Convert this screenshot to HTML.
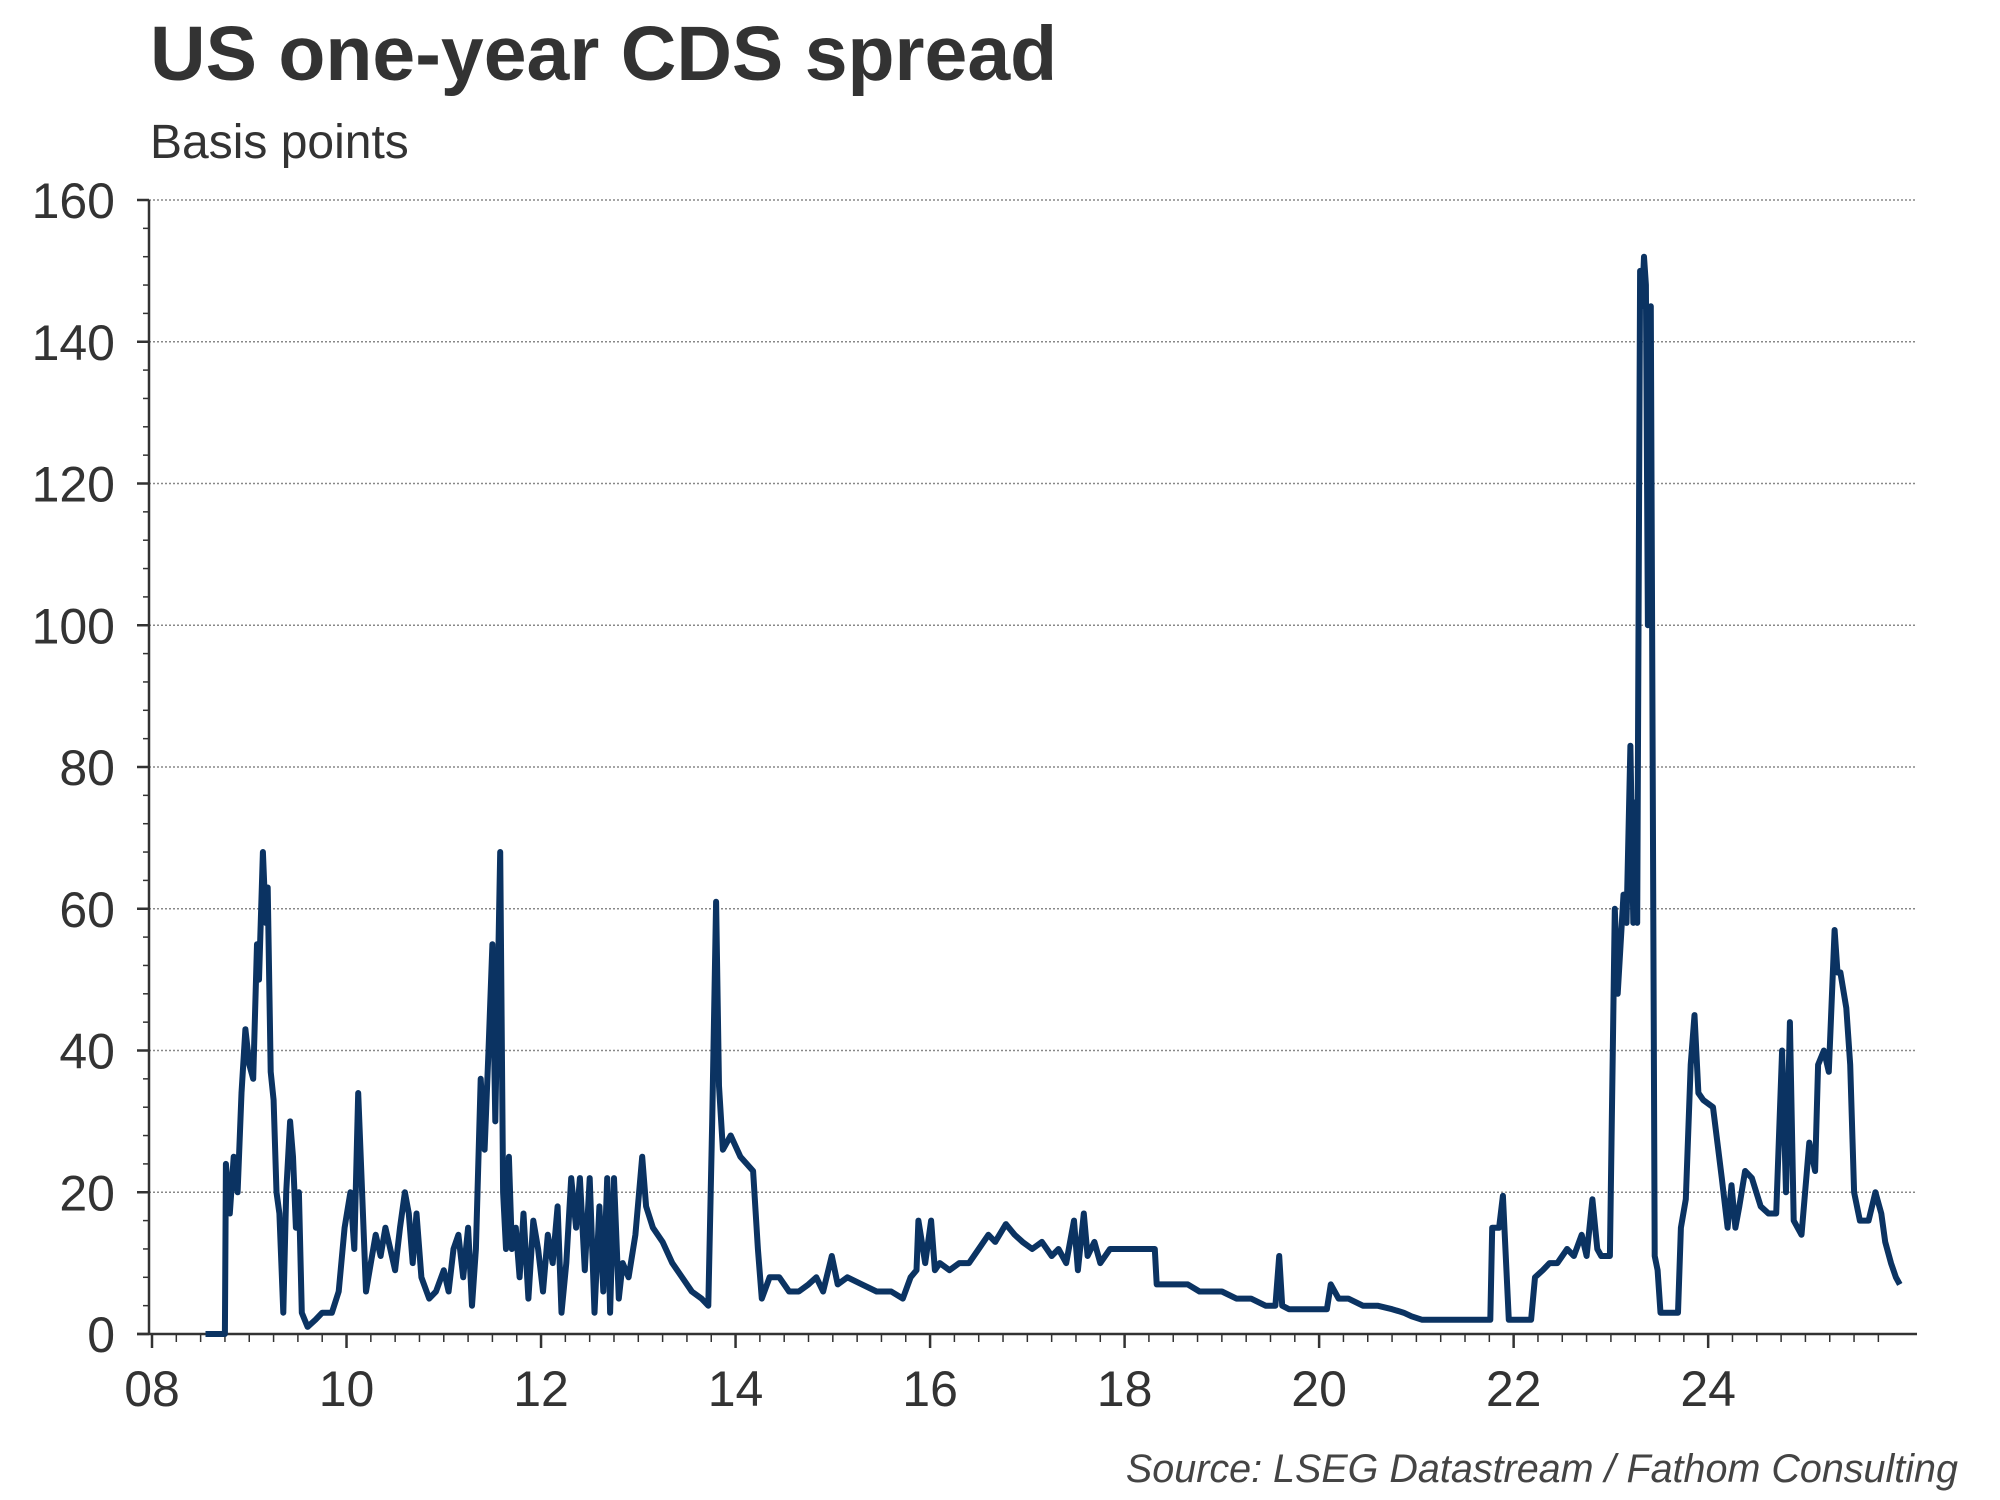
<!DOCTYPE html>
<html><head><meta charset="utf-8"><style>
body{margin:0;background:#fff;}
svg{display:block;font-family:"Liberation Sans",Arial,sans-serif;}
</style></head><body>
<svg id="chart" width="2000" height="1500" viewBox="0 0 2000 1500">
<text x="150" y="80" font-size="77" font-weight="bold" fill="#333">US one-year CDS spread</text>
<text x="150" y="158" font-size="48" fill="#333">Basis points</text>
<g id="grid"></g>
<g id="axes"></g>
<path id="line" fill="none" stroke="#0b3362" stroke-width="6" stroke-linejoin="round"></path>
<text x="1958" y="1482" font-size="39.5" font-style="italic" fill="#444" text-anchor="end">Source: LSEG Datastream / Fathom Consulting</text>
</svg>
<script>
const yTicks=[0,20,40,60,80,100,120,140,160];
const xTickYears=[2008,2010,2012,2014,2016,2018,2020,2022,2024];
const xTickLabels=["08","10","12","14","16","18","20","22","24"];
const dates=[
2008.55,2008.75,2008.76,2008.8,2008.84,2008.88,2008.92,2008.96,2009.0,2009.04,
2009.08,2009.1,2009.14,2009.17,2009.19,2009.22,2009.25,2009.28,2009.31,2009.35,
2009.38,2009.42,2009.45,2009.48,2009.51,2009.54,2009.6,2009.68,2009.75,2009.85,
2009.92,2009.98,2010.04,2010.08,2010.12,2010.16,2010.2,2010.25,2010.3,2010.35,
2010.4,2010.45,2010.5,2010.55,2010.6,2010.64,2010.68,2010.72,2010.77,2010.85,
2010.92,2011.0,2011.05,2011.1,2011.15,2011.2,2011.25,2011.29,2011.33,2011.38,
2011.42,2011.46,2011.5,2011.53,2011.58,2011.61,2011.64,2011.67,2011.7,2011.74,
2011.78,2011.82,2011.87,2011.92,2011.97,2012.02,2012.07,2012.12,2012.17,2012.21,
2012.26,2012.31,2012.36,2012.4,2012.45,2012.5,2012.55,2012.6,2012.64,2012.68,
2012.71,2012.75,2012.8,2012.84,2012.9,2012.97,2013.04,2013.08,2013.15,2013.25,
2013.35,2013.45,2013.55,2013.65,2013.72,2013.76,2013.8,2013.83,2013.87,2013.95,
2014.05,2014.18,2014.23,2014.27,2014.35,2014.45,2014.55,2014.65,2014.75,2014.83,
2014.9,2014.99,2015.05,2015.15,2015.3,2015.45,2015.6,2015.72,2015.8,2015.86,
2015.88,2015.95,2016.01,2016.05,2016.1,2016.2,2016.3,2016.4,2016.5,2016.6,
2016.67,2016.78,2016.87,2016.95,2017.05,2017.15,2017.25,2017.32,2017.4,2017.48,
2017.52,2017.58,2017.62,2017.69,2017.75,2017.85,2017.98,2018.05,2018.15,2018.31,
2018.33,2018.5,2018.65,2018.77,2018.85,2019.0,2019.15,2019.3,2019.45,2019.55,
2019.59,2019.62,2019.69,2019.8,2019.95,2020.08,2020.12,2020.2,2020.3,2020.45,
2020.6,2020.75,2020.87,2020.95,2021.06,2021.3,2021.55,2021.76,2021.78,2021.85,
2021.89,2021.95,2022.1,2022.18,2022.22,2022.3,2022.37,2022.45,2022.55,2022.62,
2022.7,2022.75,2022.81,2022.86,2022.9,2022.99,2023.04,2023.07,2023.1,2023.13,
2023.16,2023.2,2023.23,2023.25,2023.27,2023.3,2023.32,2023.34,2023.36,2023.38,
2023.41,2023.45,2023.48,2023.51,2023.6,2023.69,2023.72,2023.77,2023.82,2023.86,
2023.9,2023.95,2024.05,2024.14,2024.2,2024.24,2024.28,2024.32,2024.38,2024.45,
2024.54,2024.62,2024.7,2024.76,2024.8,2024.84,2024.88,2024.96,2025.04,2025.1,
2025.13,2025.19,2025.24,2025.3,2025.33,2025.36,2025.42,2025.46,2025.5,2025.56,
2025.65,2025.72,2025.78,2025.82,2025.88,2025.93,2025.97];
const values=[
0,0,24,17,25,20,34,43,38,36,
55,50,68,58,63,37,33,20,17,3,
20,30,25,15,20,3,1,2,3,3,
6,15,20,12,34,20,6,10,14,11,
15,12,9,15,20,17,10,17,8,5,
6,9,6,12,14,8,15,4,12,36,
26,40,55,30,68,20,12,25,12,15,
8,17,5,16,12,6,14,10,18,3,
10,22,15,22,9,22,3,18,6,22,
3,22,5,10,8,14,25,18,15,13,
10,8,6,5,4,30,61,35,26,28,
25,23,12,5,8,8,6,6,7,8,
6,11,7,8,7,6,6,5,8,9,
16,10,16,9,10,9,10,10,12,14,
13,15.5,14,13,12,13,11,12,10,16,
9,17,11,13,10,12,12,12,12,12,
7,7,7,6,6,6,5,5,4,4,
11,4,3.5,3.5,3.5,3.5,7,5,5,4,
4,3.5,3,2.5,2,2,2,2,15,15,
19.5,2,2,2,8,9,10,10,12,11,
14,11,19,12,11,11,60,48,55,62,
58,83,58,75,58,150,145,152,148,100,
145,11,9,3,3,3,15,19,38,45,
34,33,32,22,15,21,15,18,23,22,
18,17,17,40,20,44,16,14,27,23,
38,40,37,57,51,51,46,38,20,16,
16,20,17,13,10,8,7];
const L=149,R=1917,T=200,B=1334;
const xs=y=>152+(y-2008)*97.26;
const ys=v=>B-(v/160)*(B-T);
const ns="http://www.w3.org/2000/svg";
const grid=document.getElementById('grid'),axes=document.getElementById('axes');
function mk(tag,attrs,parent){const e=document.createElementNS(ns,tag);for(const k in attrs)e.setAttribute(k,attrs[k]);parent.appendChild(e);return e;}
yTicks.forEach(v=>{
  if(v>0){const g=mk('line',{x1:L,x2:R,y1:ys(v),y2:ys(v),stroke:'#888','stroke-width':1.5,'stroke-dasharray':'2,2'},grid);
  
  }
  const t=mk('text',{x:115,y:ys(v)+18,'font-size':50,fill:'#333','text-anchor':'end'},axes);t.textContent=v;
  
  
  mk('line',{x1:L-12,x2:L,y1:ys(v),y2:ys(v),stroke:'#333','stroke-width':2.5},axes);
});
for(let v=0;v<=160;v+=4){mk('line',{x1:L-6,x2:L,y1:ys(v),y2:ys(v),stroke:'#333','stroke-width':1.5},axes);}
for(let y=2008;y<=2025.8;y+=0.25){mk('line',{x1:xs(y),x2:xs(y),y1:B,y2:B+8,stroke:'#333','stroke-width':1.5},axes);}
xTickYears.forEach((y,i)=>{
  mk('line',{x1:xs(y),x2:xs(y),y1:B,y2:B+14,stroke:'#333','stroke-width':2.5},axes);
  const t=mk('text',{x:xs(y),y:1406,'font-size':50,fill:'#333','text-anchor':'middle'},axes);t.textContent=xTickLabels[i];
  
  
});
const ya=mk('line',{x1:L,x2:L,y1:T,y2:B,stroke:'#333','stroke-width':2.5},axes);


const xa=mk('line',{x1:L-12,x2:R,y1:B,y2:B,stroke:'#333','stroke-width':2.5},axes);


let d='';dates.forEach((y,i)=>{d+=(i?'L':'M')+xs(y).toFixed(1)+','+ys(values[i]).toFixed(1);});
document.getElementById('line').setAttribute('d',d);
</script>
</body></html>
